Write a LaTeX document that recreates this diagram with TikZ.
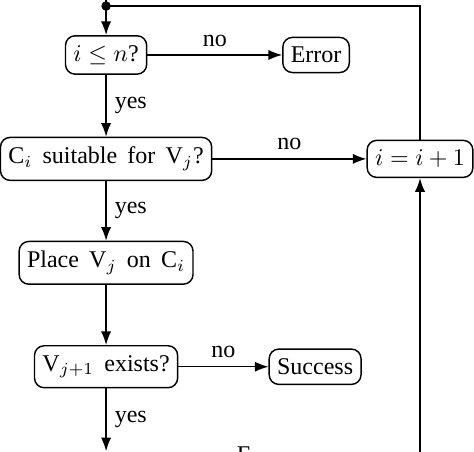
\documentclass[tikz,border=0pt]{standalone}
\usepackage{fontspec}
\setmainfont[WordSpace=1.7]{Liberation Serif}
\usetikzlibrary{arrows.meta}
\usetikzlibrary{positioning}
\tikzset{
	stepbox/.style={draw, rounded corners, semithick, inner xsep=3.3pt, inner ysep=4pt},
	flow/.style={-{Latex[length=2mm]}, semithick},
	link/.style={semithick},
	jdot/.style={circle, fill=black, inner sep=1.4pt}
}
\begin{document}
\begin{tikzpicture}[>=Latex, node distance=43.3pt, on grid]
		\useasboundingbox (0,0) rectangle (197.5pt,-188.3pt);
		\node[stepbox] (cnt) at (44.2pt,-22.9pt) {$i\leq n$?};
		\node[stepbox, right=87.5pt of cnt] (err) {Error};
		\node[stepbox, below=of cnt] (fit) {C$_i$ suitable for V$_j$?};
		\node[stepbox, right=130.8pt of fit] (inc) {$i=i+1$};
		\node[stepbox, below=of fit] (place) {Place V$_j$ on C$_i$};
		\node[stepbox, below=of place] (nxt) {V$_{j+1}$ exists?};
		\node[stepbox, right=87.1pt of nxt] (ok) {Success};
		% loop back to the test
		\coordinate[above=20.4pt of cnt] (junc);
		\coordinate[above=30pt of cnt] (start);
		\coordinate (down) at (44.2pt,-188pt);
		\coordinate (back) at (175pt,-200pt);
		\node[anchor=base west, inner sep=0] (cut) at (98.5pt,-192.9pt) {F};
		\draw[flow] (start) -- (cnt);
		\draw[link] (inc) |- (junc);
		\node[jdot] at (junc) {};
		\draw[flow] (cnt) -- node[above] {no} (err);
		\draw[flow] (cnt) -- node[right] {yes} (fit);
		\draw[flow] (fit) -- node[above] {no} (inc);
		\draw[flow] (fit) -- node[right] {yes} (place);
		\draw[flow] (place) -- (nxt);
		\draw[flow] (nxt) -- node[above] {no} (ok);
		\draw[flow] (nxt) -- node[right] {yes} (down);
		\draw[flow] (back) -- (inc);
	\end{tikzpicture}
\end{document}
